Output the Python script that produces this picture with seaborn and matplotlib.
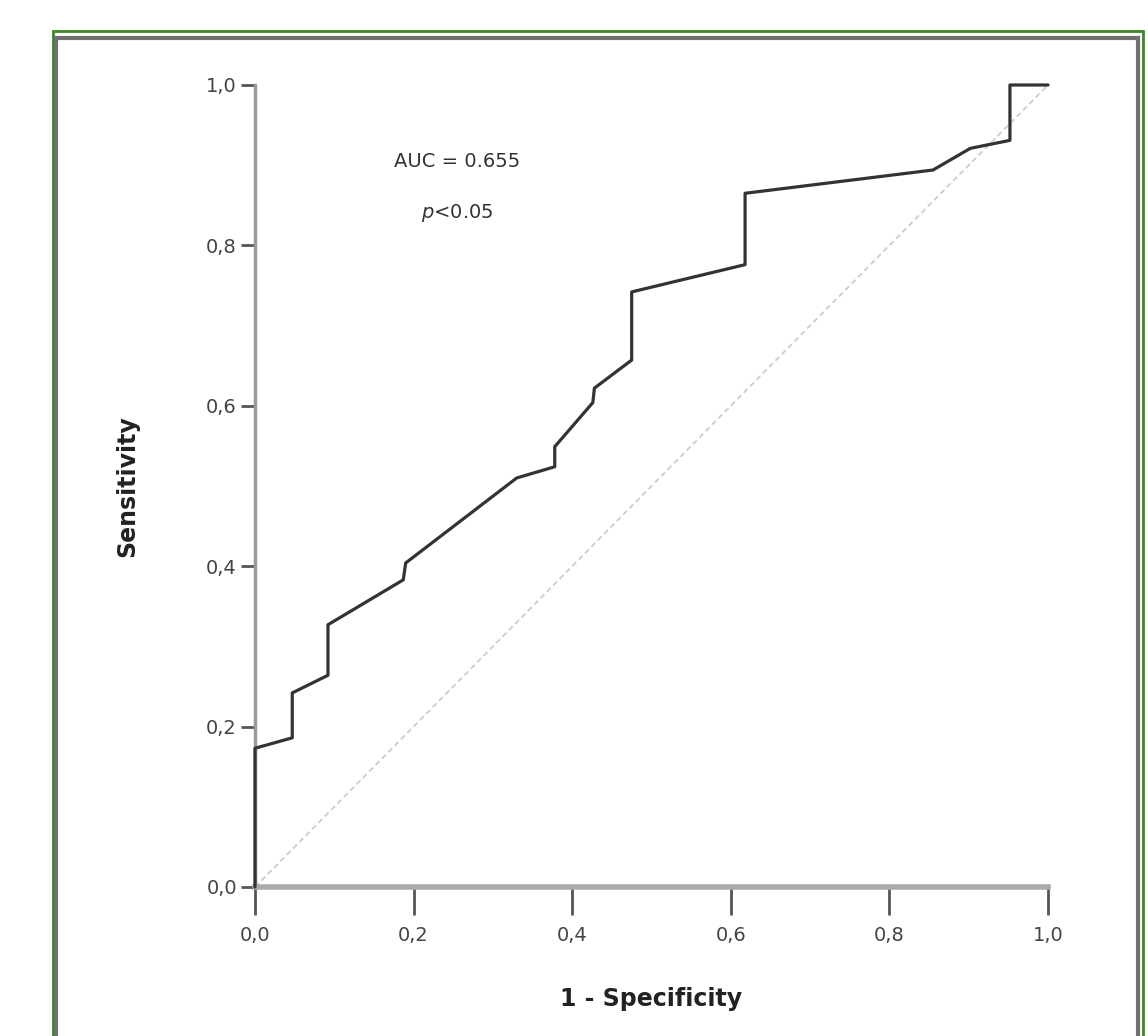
import matplotlib
matplotlib.use("Agg")
import matplotlib.pyplot as plt
from matplotlib.patches import Rectangle
import pandas as pd
import seaborn as sns

# ROC curve points (1 - specificity, sensitivity)
fpr = [0.0, 0.0, 0.047, 0.047, 0.092, 0.092, 0.187, 0.190, 0.330, 0.378, 0.378,
       0.426, 0.428, 0.475, 0.475, 0.618, 0.618, 0.855, 0.902, 0.952, 0.952, 1.0]
tpr = [0.0, 0.173, 0.186, 0.242, 0.264, 0.327, 0.383, 0.404, 0.510, 0.524, 0.549,
       0.604, 0.622, 0.657, 0.742, 0.776, 0.865, 0.894, 0.921, 0.931, 1.0, 1.0]
ref_line = [0.0, 1.0]
tick_vals = [0.0, 0.2, 0.4, 0.6, 0.8, 1.0]
tick_labels = ["0,0", "0,2", "0,4", "0,6", "0,8", "1,0"]
auc_text = "AUC = 0.655"
p_text = r"$p$<0.05"

sns.set_style("white")
plt.rcParams["font.family"] = ["DejaVu Sans"]

W, H = 1148, 1036
fig = plt.figure(figsize=(W / 100, H / 100), dpi=100)
ax = fig.add_axes([255 / W, 1 - 887 / H, (1048 - 255) / W, (887 - 85) / H])

roc = pd.DataFrame({"fpr": fpr, "tpr": tpr})
sns.lineplot(data=roc, x="fpr", y="tpr", sort=False, estimator=None,
             color="#333333", linewidth=2.3, ax=ax, zorder=3, clip_on=False)
sns.lineplot(x=ref_line, y=ref_line, color="#cccccc", linewidth=1.3,
             linestyle=(0, (3, 2)), ax=ax, zorder=2)

ax.set_xlim(0, 1)
ax.set_ylim(0, 1)
ax.set_xticks(tick_vals)
ax.set_xticklabels(tick_labels)
ax.set_yticks(tick_vals)
ax.set_yticklabels(tick_labels)
ax.tick_params(axis="x", bottom=True, length=20, width=2, color="#555555",
               labelsize=14, labelcolor="#444444", pad=8, direction="out")
ax.tick_params(axis="y", left=True, length=10, width=2, color="#555555",
               labelsize=14, labelcolor="#444444", pad=3, direction="out")
ax.set_xlabel("1 - Specificity", fontsize=17, fontweight="bold", labelpad=30,
              color="#222222")
ax.set_ylabel("Sensitivity", fontsize=17, fontweight="bold", labelpad=48,
              color="#222222")

for side in ["top", "right"]:
    ax.spines[side].set_visible(False)
ax.spines["bottom"].set_color("#aaaaaa")
ax.spines["bottom"].set_linewidth(4)
ax.spines["left"].set_color("#999999")
ax.spines["left"].set_linewidth(2.5)

ax.text(0.255, 0.905, auc_text, transform=ax.transAxes, ha="center", va="center",
        fontsize=14, color="#333333")
ax.text(0.255, 0.84, p_text, transform=ax.transAxes, ha="center", va="center",
        fontsize=14, color="#333333")

# outer green frame and inner grey frame
fig.patches.append(Rectangle((53 / W, -0.05), (1143 - 53) / W, 1 - 31 / H + 0.05,
                             transform=fig.transFigure, fill=False,
                             edgecolor="#3a8a22", linewidth=2))
fig.patches.append(Rectangle((56 / W, -0.05), (1138 - 56) / W, 1 - 38 / H + 0.05,
                             transform=fig.transFigure, fill=False,
                             edgecolor="#707070", linewidth=3))

fig.savefig("out.png", dpi=100)
